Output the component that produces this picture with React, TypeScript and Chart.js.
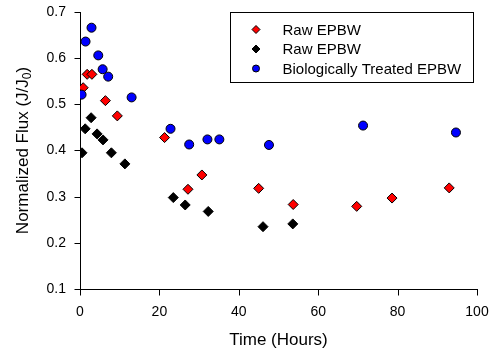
import React, { useEffect, useRef } from "react";
import { Chart, registerables } from "chart.js";

Chart.register(...registerables);

const xTicks = [0, 20, 40, 60, 80, 100];
const yTicks = [0.1, 0.2, 0.3, 0.4, 0.5, 0.6, 0.7];

const seriesNames = ["Raw EPBW", "Raw EPBW", "Biologically Treated EPBW"];

const redX = [0.8, 1.8, 3.0, 6.4, 9.4, 21.3, 27.2, 30.7, 45.0, 53.7, 69.7, 78.6, 93.0];
const redY = [0.536, 0.565, 0.565, 0.508, 0.475, 0.428, 0.316, 0.347, 0.318, 0.283, 0.279, 0.297, 0.319];

const blackX = [0.5, 1.3, 2.8, 4.3, 5.8, 7.9, 11.3, 23.5, 26.5, 32.3, 46.1, 53.6];
const blackY = [0.395, 0.447, 0.471, 0.436, 0.423, 0.395, 0.371, 0.298, 0.282, 0.268, 0.235, 0.241];

const blueX = [0.4, 1.4, 2.9, 4.6, 5.7, 7.1, 13.0, 22.8, 27.5, 32.1, 35.1, 47.6, 71.3, 94.7];
const blueY = [0.521, 0.636, 0.666, 0.606, 0.576, 0.56, 0.515, 0.447, 0.413, 0.424, 0.424, 0.412, 0.454, 0.439];

const FONT = '"Liberation Sans", Arial, Helvetica, sans-serif';

const toPts = (xs: number[], ys: number[]) => xs.map((x, i) => ({ x, y: ys[i] }));

function drawMarker(ctx: CanvasRenderingContext2D, style: string, x: number, y: number, r: number, fill: string) {
  ctx.beginPath();
  if (style === "circle") {
    ctx.arc(x, y, r, 0, Math.PI * 2);
  } else {
    ctx.moveTo(x, y - r);
    ctx.lineTo(x + r, y);
    ctx.lineTo(x, y + r);
    ctx.lineTo(x - r, y);
    ctx.closePath();
  }
  ctx.fillStyle = fill;
  ctx.fill();
  ctx.lineWidth = 1;
  ctx.strokeStyle = "#000";
  ctx.stroke();
}

const overlayPlugin = {
  id: "overlay",
  afterDraw(chart: any) {
    const ctx: CanvasRenderingContext2D = chart.ctx;
    const ca = chart.chartArea;
    const xs = chart.scales.x;
    const ys = chart.scales.y;
    ctx.save();

    // outside tick marks
    ctx.strokeStyle = "#000";
    ctx.lineWidth = 1;
    ctx.beginPath();
    const by = Math.round(ca.bottom) + 0.5;
    xTicks.forEach((v) => {
      const px = Math.round(xs.getPixelForValue(v)) + 0.5;
      ctx.moveTo(px, by);
      ctx.lineTo(px, by + 6);
    });
    const lx = Math.round(ca.left) + 0.5;
    yTicks.forEach((v) => {
      const py = Math.round(ys.getPixelForValue(v)) + 0.5;
      ctx.moveTo(lx, py);
      ctx.lineTo(lx - 6, py);
    });
    ctx.stroke();

    ctx.fillStyle = "#000";
    ctx.font = `17px ${FONT}`;
    ctx.textAlign = "center";
    ctx.textBaseline = "alphabetic";
    ctx.fillText("Time (Hours)", (ca.left + ca.right) / 2, 345);

    ctx.save();
    ctx.translate(28, (ca.top + ca.bottom) / 2);
    ctx.rotate(-Math.PI / 2);
    const main = "Normalized Flux (J/J";
    const sub = "0";
    const close = ")";
    ctx.font = `17px ${FONT}`;
    const wMain = ctx.measureText(main).width;
    const wClose = ctx.measureText(close).width;
    ctx.font = `12px ${FONT}`;
    const wSub = ctx.measureText(sub).width;
    const total = wMain + wSub + wClose;
    const x0 = -total / 2;
    ctx.textAlign = "left";
    ctx.font = `17px ${FONT}`;
    ctx.fillText(main, x0, 0);
    ctx.font = `12px ${FONT}`;
    ctx.fillText(sub, x0 + wMain, 3);
    ctx.font = `17px ${FONT}`;
    ctx.fillText(close, x0 + wMain + wSub, 0);
    ctx.restore();

    ctx.lineWidth = 1;
    ctx.strokeStyle = "#000";
    ctx.strokeRect(230.5, 12.5, 243, 70);
    const rows = [29.5, 49, 68.5];
    ctx.font = `15px ${FONT}`;
    ctx.textAlign = "left";
    ctx.textBaseline = "middle";
    chart.data.datasets.forEach((ds: any) => {
      const idx = ds.legendIndex;
      const y = rows[idx];
      drawMarker(ctx, ds.pointStyle, 256, y, ds.pointStyle === "circle" ? 3.5 : 4, ds.backgroundColor);
      ctx.fillStyle = "#000";
      ctx.fillText(seriesNames[idx], 282.5, y + 1);
    });
    ctx.restore();
  },
};

export default function App() {
  const ref = useRef<HTMLCanvasElement>(null);
  useEffect(() => {
    document.body.style.margin = "0";
    const chart = new Chart(ref.current!, {
      type: "scatter",
      data: {
        datasets: [
          { label: seriesNames[2], data: toPts(blueX, blueY), pointStyle: "circle", pointRadius: 4.5, backgroundColor: "#0000ff", borderColor: "#000", borderWidth: 1, order: 0, legendIndex: 2 } as any,
          { label: seriesNames[0], data: toPts(redX, redY), pointStyle: "rectRot", pointRadius: 5, backgroundColor: "#ff0000", borderColor: "#000", borderWidth: 1, order: 1, legendIndex: 0 } as any,
          { label: seriesNames[1], data: toPts(blackX, blackY), pointStyle: "rectRot", pointRadius: 5, backgroundColor: "#000000", borderColor: "#000", borderWidth: 1, order: 2, legendIndex: 1 } as any,
        ],
      },
      options: {
        responsive: false,
        animation: false,
        layout: { padding: { top: 12, right: 15, left: 0, bottom: 0 } },
        plugins: { legend: { display: false }, tooltip: { enabled: false } },
        scales: {
          x: {
            type: "linear",
            min: xTicks[0],
            max: xTicks[xTicks.length - 1],
            afterBuildTicks: (s: any) => { s.ticks = xTicks.map((v) => ({ value: v })); },
            afterFit: (s: any) => { s.height = 59; s.paddingLeft = 0; s.paddingRight = 0; s.paddingTop = 0; s.paddingBottom = 0; },
            border: { display: true, color: "#000", width: 1 },
            grid: { display: true, drawOnChartArea: false, drawTicks: true, tickLength: 6, color: "rgba(0,0,0,0)" },
            ticks: { color: "#000", font: { family: FONT, size: 14 }, padding: 9, maxRotation: 0, callback: (v: any) => String(v) },
          },
          y: {
            type: "linear",
            min: yTicks[0],
            max: yTicks[yTicks.length - 1],
            afterBuildTicks: (s: any) => { s.ticks = yTicks.map((v) => ({ value: v })); },
            afterFit: (s: any) => { s.width = 80; s.paddingLeft = 0; s.paddingRight = 0; s.paddingTop = 0; s.paddingBottom = 0; },
            border: { display: true, color: "#000", width: 1 },
            grid: { display: true, drawOnChartArea: false, drawTicks: true, tickLength: 6, color: "rgba(0,0,0,0)" },
            ticks: { color: "#000", font: { family: FONT, size: 14 }, padding: 8, callback: (v: any) => Number(v).toFixed(1) },
          },
        },
      },
      plugins: [overlayPlugin],
    });
    return () => chart.destroy();
  }, []);
  return (
    <div style={{ position: "absolute", left: 0, top: 0, width: 492, height: 348, background: "#fff" }}>
      <canvas ref={ref} width={492} height={348} />
    </div>
  );
}
